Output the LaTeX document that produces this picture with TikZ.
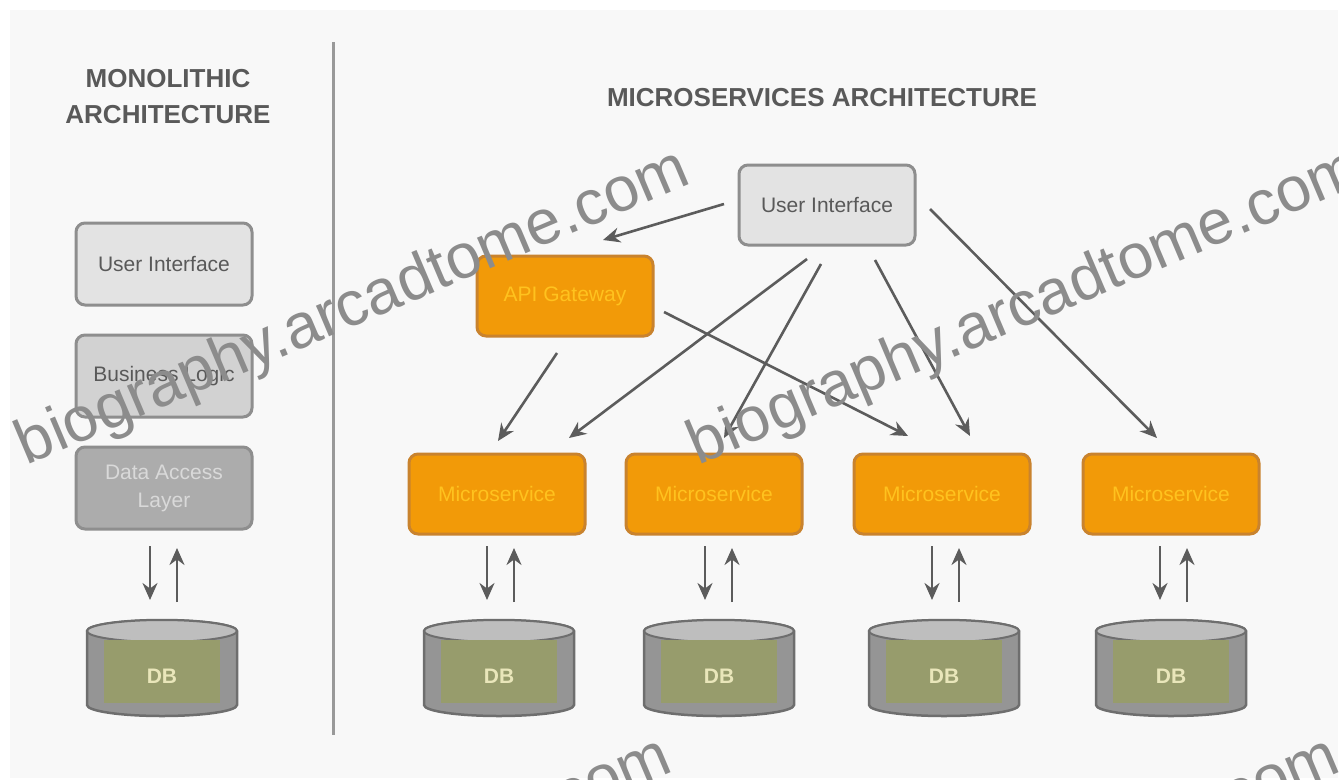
\documentclass[tikz,border=0pt]{standalone}
\usepackage{fontspec}
\setmainfont{Liberation Sans}
\usetikzlibrary{arrows.meta}
\definecolor{bgp}{HTML}{F8F8F8}
\definecolor{ink}{HTML}{5C5C5C}
\definecolor{orangefill}{HTML}{F29A08}
\definecolor{orangeline}{HTML}{C9832E}
\definecolor{orangetext}{HTML}{FFC21E}
\definecolor{dbgray}{HTML}{959595}
\definecolor{dbtop}{HTML}{BEBEBE}
\definecolor{dbline}{HTML}{6E6E6E}
\definecolor{dbolive}{HTML}{979C6C}
\definecolor{boxline}{HTML}{8E8E8E}
\tikzset{
  x=1pt,y=-1pt,
  box/.style={draw=#1,rounded corners=9pt,line width=3pt,minimum width=176pt,minimum height=80pt,inner sep=2pt,align=center,font=\fontsize{21}{28}\selectfont},
  orangebox/.style={box=orangeline,fill=orangefill,text=orangetext},
  uibox/.style={box=boxline,fill=gray!22,text=black!65},
  conn/.style={draw=ink,line width=2.6pt,-{Stealth[length=17pt,width=15pt]}},
  title/.style={font=\fontsize{26}{36}\selectfont\bfseries,text=black!65,align=center},
  wmark/.style={font=\fontsize{63}{65}\selectfont,text=black!45,rotate=23,anchor=south west},
  dbtext/.style={font=\fontsize{21}{24}\selectfont\bfseries,text=white!80!olive}
}
\newcommand{\dbcyl}[3]{% name, cx, top y
  \filldraw[draw=dbline,line width=2.5pt,fill=dbgray] (#2-75,#3+12) -- (#2-75,#3+86)
     arc[start angle=180,end angle=360,x radius=75,y radius=-11] -- (#2+75,#3+12)
     arc[start angle=0,end angle=180,x radius=75,y radius=-11] -- cycle;
  \filldraw[draw=dbline,line width=2pt,fill=dbtop] (#2,#3+12) ellipse[x radius=75,y radius=11];
  \fill[dbolive] (#2-58,#3+21) rectangle (#2+58,#3+84);
  \node[dbtext] (#1) at (#2,#3+57) {DB};
}
\begin{document}
\begin{tikzpicture}
\useasboundingbox (0,0) rectangle (1343,779);
\begin{scope}
\clip (0,0) rectangle (1338,779);
\fill[white] (0,0) rectangle (1343,779);
\fill[bgp] (10,10) rectangle (1338,778);
\draw[black!40,line width=3pt] (333,42) -- (333,735);

\node[title] (t1) at (168,97) {MONOLITHIC\\ARCHITECTURE};
\node[title] (t2) at (822,98) {MICROSERVICES ARCHITECTURE};

\node[uibox,minimum height=82pt] (mui) at (164,264) {User Interface};
\node[box=boxline,fill=gray!35,text=black!65,minimum height=82pt] (mbl) at (164,376) {Business Logic};
\node[box=boxline,fill=gray!65,text=white!85!black,minimum height=82pt] (mda) at (164,488) {Data Access\\Layer};

\node[uibox] (ui) at (827,205) {User Interface};
\node[orangebox] (gw) at (565,296) {API Gateway};
\node[orangebox] (s1) at (497,494) {Microservice};
\node[orangebox] (s2) at (714,494) {Microservice};
\node[orangebox] (s3) at (942,494) {Microservice};
\node[orangebox] (s4) at (1171,494) {Microservice};

\dbcyl{d0}{162}{619}
\dbcyl{d1}{499}{619}
\dbcyl{d2}{719}{619}
\dbcyl{d3}{944}{619}
\dbcyl{d4}{1171}{619}

\coordinate (a1) at (724,204); \coordinate (a1e) at (603,240);
\draw[conn] (a1) -- (a1e);
\coordinate (a2) at (557,353); \coordinate (a2e) at (498,441);
\draw[conn] (a2) -- (a2e);
\coordinate (a3) at (807,259); \coordinate (a3e) at (569,438);
\draw[conn] (a3) -- (a3e);
\coordinate (a4) at (821,264); \coordinate (a4e) at (724,438);
\draw[conn] (a4) -- (a4e);
\coordinate (a5) at (875,260); \coordinate (a5e) at (970,436);
\draw[conn] (a5) -- (a5e);
\coordinate (a6) at (930,209); \coordinate (a6e) at (1157,438);
\draw[conn] (a6) -- (a6e);
\coordinate (a7) at (664,312); \coordinate (a7e) at (908,436);
\draw[conn] (a7) -- (a7e);

\foreach \n/\x in {0/150,1/487,2/705,3/932,4/1160}{
  \coordinate (dn\n) at (\x,546); \coordinate (de\n) at (\x,600);
  \draw[conn] (dn\n) -- (de\n);
  \coordinate (un\n) at (\x+27,602); \coordinate (ue\n) at (\x+27,548);
  \draw[conn] (un\n) -- (ue\n);
}

\node[wmark] (w1) at (30,482) {biography.arcadtome.com};
\node[wmark] (w2) at (702,482) {biography.arcadtome.com};
\node[wmark] (w3) at (12,1070) {biography.arcadtome.com};
\node[wmark] (w4) at (680,1070) {biography.arcadtome.com};
\end{scope}
\end{tikzpicture}
\end{document}
